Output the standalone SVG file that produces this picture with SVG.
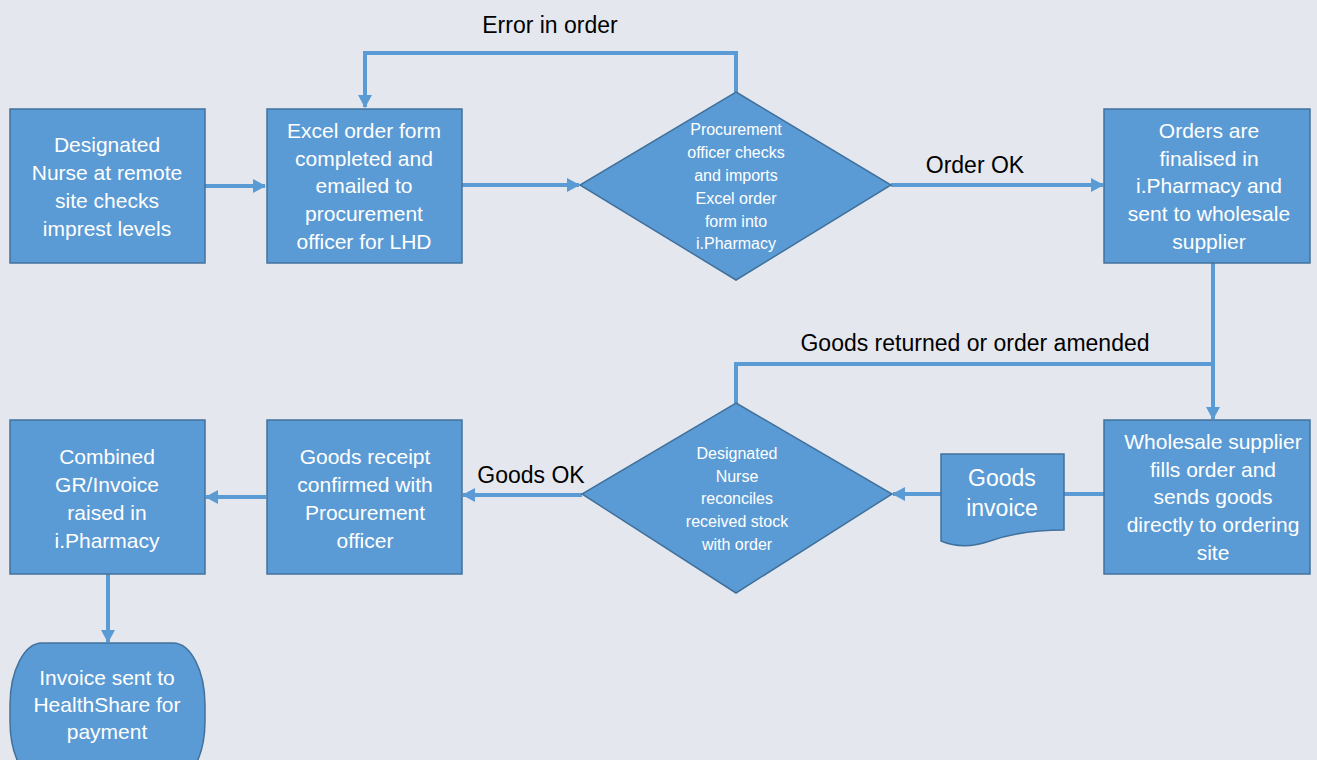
<svg xmlns="http://www.w3.org/2000/svg" width="1317" height="760" viewBox="0 0 1317 760">
  <defs>
    <marker id="arrow" markerWidth="14" markerHeight="14" refX="12" refY="7" orient="auto" markerUnits="userSpaceOnUse">
      <path d="M0,0 L13,7 L0,14 Z" fill="#5B9BD5"/>
    </marker>
    <style>
      .shape { fill: #5B9BD5; stroke: #41719C; stroke-width: 1.5; }
      .lbl { font-family: "Liberation Sans", Arial, sans-serif; font-size: 21px; fill: #FFFFFF; text-anchor: middle; }
      .small { font-family: "Liberation Sans", Arial, sans-serif; font-size: 16px; fill: #FFFFFF; text-anchor: middle; }
      .big { font-family: "Liberation Sans", Arial, sans-serif; font-size: 23px; fill: #FFFFFF; text-anchor: middle; }
      .edge { font-family: "Liberation Sans", Arial, sans-serif; font-size: 23px; fill: #000000; text-anchor: middle; }
      .conn { fill: none; stroke: #5B9BD5; stroke-width: 4; }
    </style>
  </defs>

  <rect width="1317" height="760" fill="#E4E8EE"/>

  <!-- connectors -->
  <g id="connectors">
    <line class="conn" x1="205" y1="186" x2="265" y2="186" marker-end="url(#arrow)"/>
    <line class="conn" x1="462" y1="185" x2="579" y2="185" marker-end="url(#arrow)"/>
    <polyline class="conn" points="736,92 736,53 365,53 365,107" marker-end="url(#arrow)"/>
    <line class="conn" x1="891" y1="185" x2="1103" y2="185" marker-end="url(#arrow)"/>
    <line class="conn" x1="1213" y1="263" x2="1213" y2="419" marker-end="url(#arrow)"/>
    <polyline class="conn" points="736,403 736,364 1213,364"/>
    <line class="conn" x1="1104" y1="494" x2="1064" y2="494"/>
    <line class="conn" x1="941" y1="494" x2="893" y2="494" marker-end="url(#arrow)"/>
    <line class="conn" x1="582" y1="495" x2="463" y2="495" marker-end="url(#arrow)"/>
    <line class="conn" x1="266" y1="497" x2="206" y2="497" marker-end="url(#arrow)"/>
    <line class="conn" x1="108" y1="574" x2="108" y2="642" marker-end="url(#arrow)"/>
    <text class="edge" x="550" y="33">Error in order</text>
    <text class="edge" x="975" y="173">Order OK</text>
    <text class="edge" x="975" y="351">Goods returned or order amended</text>
    <text class="edge" x="531" y="483">Goods OK</text>
  </g>

  <!-- top row -->
  <g id="nurse-check">
    <rect class="shape" x="10" y="109" width="195" height="154"/>
    <text class="lbl" x="107" y="152">Designated</text>
    <text class="lbl" x="107" y="180">Nurse at remote</text>
    <text class="lbl" x="107" y="208">site checks</text>
    <text class="lbl" x="107" y="236">imprest levels</text>
  </g>

  <g id="excel-form">
    <rect class="shape" x="267" y="109" width="195" height="154"/>
    <text class="lbl" x="364" y="138">Excel order form</text>
    <text class="lbl" x="364" y="166">completed and</text>
    <text class="lbl" x="364" y="193">emailed to</text>
    <text class="lbl" x="364" y="221">procurement</text>
    <text class="lbl" x="364" y="249">officer for LHD</text>
  </g>

  <g id="procurement-check">
    <polygon class="shape" points="736,92 891,185 736,280 580,185"/>
    <text class="small" x="736" y="135">Procurement</text>
    <text class="small" x="736" y="158">officer checks</text>
    <text class="small" x="736" y="181">and imports</text>
    <text class="small" x="736" y="204">Excel order</text>
    <text class="small" x="736" y="227">form into</text>
    <text class="small" x="736" y="249">i.Pharmacy</text>
  </g>

  <g id="orders-finalised">
    <rect class="shape" x="1104" y="109" width="206" height="154"/>
    <text class="lbl" x="1209" y="138">Orders are</text>
    <text class="lbl" x="1209" y="166">finalised in</text>
    <text class="lbl" x="1209" y="193">i.Pharmacy and</text>
    <text class="lbl" x="1209" y="221">sent to wholesale</text>
    <text class="lbl" x="1209" y="249">supplier</text>
  </g>

  <!-- bottom row -->
  <g id="wholesale-supplier">
    <rect class="shape" x="1104" y="420" width="206" height="154"/>
    <text class="lbl" x="1213" y="449">Wholesale supplier</text>
    <text class="lbl" x="1213" y="477">fills order and</text>
    <text class="lbl" x="1213" y="504">sends goods</text>
    <text class="lbl" x="1213" y="532">directly to ordering</text>
    <text class="lbl" x="1213" y="560">site</text>
  </g>

  <g id="goods-invoice">
    <path class="shape" d="M941,454 H1064 V530 C1035,530 1010,534 990,541 C970,548 955,547 941,541 Z"/>
    <text class="big" x="1002" y="486">Goods</text>
    <text class="big" x="1002" y="516">invoice</text>
  </g>

  <g id="nurse-reconcile">
    <polygon class="shape" points="736,403 892,494 736,593 582,494"/>
    <text class="small" x="737" y="459">Designated</text>
    <text class="small" x="737" y="482">Nurse</text>
    <text class="small" x="737" y="504">reconciles</text>
    <text class="small" x="737" y="527">received stock</text>
    <text class="small" x="737" y="550">with order</text>
  </g>

  <g id="goods-receipt">
    <rect class="shape" x="267" y="420" width="195" height="154"/>
    <text class="lbl" x="365" y="464">Goods receipt</text>
    <text class="lbl" x="365" y="492">confirmed with</text>
    <text class="lbl" x="365" y="520">Procurement</text>
    <text class="lbl" x="365" y="548">officer</text>
  </g>

  <g id="combined-invoice">
    <rect class="shape" x="10" y="420" width="195" height="154"/>
    <text class="lbl" x="107" y="464">Combined</text>
    <text class="lbl" x="107" y="492">GR/Invoice</text>
    <text class="lbl" x="107" y="520">raised in</text>
    <text class="lbl" x="107" y="548">i.Pharmacy</text>
  </g>

  <g id="healthshare">
    <rect class="shape" x="10" y="643" width="195" height="140" rx="32" ry="62"/>
    <text class="lbl" x="107" y="685">Invoice sent to</text>
    <text class="lbl" x="107" y="712">HealthShare for</text>
    <text class="lbl" x="107" y="739">payment</text>
  </g>
</svg>
